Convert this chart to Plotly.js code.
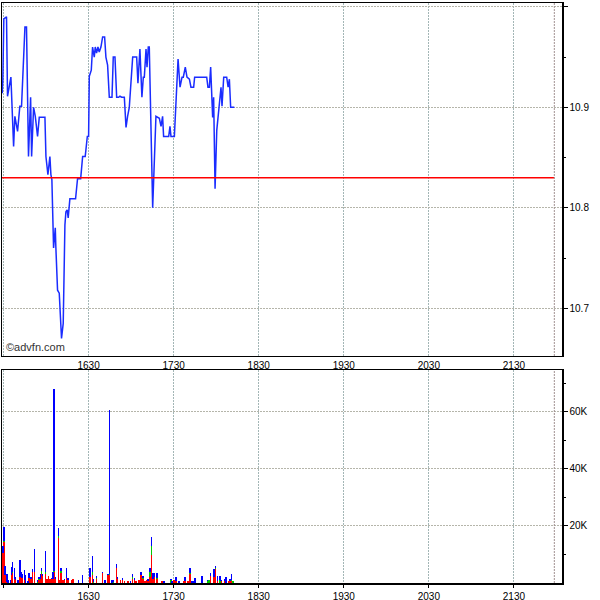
<!DOCTYPE html>
<html>
<head>
<meta charset="utf-8">
<script src="https://cdn.plot.ly/plotly-3.0.1.min.js"></script>
<style>html,body{margin:0;padding:0;background:#fff}#chart{width:600px;height:600px}</style>
</head>
<body>
<div id="chart"></div>
<script>
// ---- data ----
var DAY = "2024-01-01 ";
var priceTimes = ["15:29:04","15:29:30","15:30:12","15:32:06","15:32:48","15:34:00","15:35:12","15:37:06","15:38:00","15:39:54",
"15:41:30","15:42:42","15:45:06","15:46:12","15:47:36","15:49:06","15:49:48","15:51:12","15:52:24","15:54:00",
"15:55:12","15:59:12","15:59:54","16:01:18","16:02:42","16:03:24","16:04:06","16:05:18","16:06:30","16:06:54",
"16:08:06","16:09:18","16:10:54","16:12:06","16:13:18","16:14:00","16:14:54","16:15:36","16:16:48","16:20:48",
"16:22:12","16:24:24","16:25:48","16:27:36","16:29:06","16:30:00","16:30:30","16:31:54","16:32:48","16:34:00",
"16:34:42","16:35:36","16:36:36","16:37:30","16:38:42","16:39:54","16:41:18","16:42:12","16:43:24","16:44:36",
"16:46:30","16:47:24","16:48:36","16:49:48","16:51:12","16:52:06","16:53:18","16:55:12","16:56:24","16:57:30",
"16:58:42","17:01:06","17:03:54","17:04:48","17:06:12","17:07:36","17:08:36","17:09:18","17:10:30","17:11:12",
"17:12:06","17:12:48","17:15:12","17:17:30","17:19:54","17:21:06","17:22:12","17:22:54","17:26:30","17:27:24",
"17:28:06","17:30:30","17:31:36","17:33:06","17:34:30","17:35:54","17:36:48","17:38:12","17:39:24","17:41:06",
"17:42:12","17:44:06","17:44:48","17:53:18","17:54:12","17:55:12","17:56:06","17:56:48","17:57:30","17:58:12",
"17:59:12","18:00:24","18:02:12","18:03:24","18:04:06","18:05:18","18:07:24","18:08:24","18:09:18","18:10:12",
"18:12:48"];
var prices = [10.914,10.927,10.988,10.990,10.911,10.919,10.930,10.861,10.891,10.876,
10.901,10.901,10.980,10.980,10.851,10.910,10.851,10.900,10.891,10.871,
10.890,10.890,10.851,10.833,10.851,10.833,10.828,10.760,10.780,10.761,
10.718,10.715,10.670,10.685,10.783,10.796,10.798,10.790,10.809,10.809,
10.829,10.829,10.851,10.851,10.871,10.871,10.931,10.937,10.960,10.950,
10.960,10.954,10.960,10.955,10.960,10.970,10.970,10.950,10.942,10.910,
10.910,10.950,10.950,10.910,10.910,10.911,10.910,10.910,10.880,10.891,
10.900,10.950,10.950,10.924,10.958,10.910,10.930,10.930,10.958,10.940,
10.960,10.960,10.800,10.891,10.889,10.881,10.891,10.871,10.871,10.881,
10.871,10.871,10.911,10.948,10.920,10.930,10.930,10.940,10.930,10.928,
10.920,10.920,10.930,10.930,10.920,10.920,10.940,10.920,10.890,10.910,
10.819,10.877,10.900,10.920,10.901,10.930,10.930,10.920,10.928,10.900,
10.900];

var volTimes = ["15:29:46","15:30:28","15:31:11","15:32:21","15:33:17","15:34:56","15:35:39","15:36:21","15:37:46","15:38:28",
"15:40:07","15:41:46","15:42:28","15:43:11","15:44:49","15:45:32","15:47:11","15:48:07","15:49:32","15:50:28",
"15:51:53","15:54:00","15:54:56","15:56:07","15:56:49","15:57:32","15:59:39","16:00:35","16:01:46","16:02:43",
"16:04:07","16:05:04","16:05:46","16:06:43","16:08:49","16:09:32","16:10:43","16:11:53","16:13:04","16:14:28",
"16:15:39","16:18:00","16:18:56","16:22:56","16:25:46","16:31:11","16:32:49","16:33:32","16:35:39","16:39:53",
"16:41:46","16:43:53","16:44:49","16:46:28","16:47:25","16:49:46","16:50:28","16:52:35","16:54:00","16:55:25",
"16:58:00","16:59:39","17:01:04","17:02:28","17:03:25","17:05:46","17:06:43","17:08:21","17:10:00","17:10:56",
"17:11:53","17:13:17","17:14:28","17:15:25","17:16:35","17:18:00","17:21:32","17:23:11","17:27:53","17:28:49",
"17:30:28","17:31:53","17:33:32","17:37:04","17:37:46","17:39:53","17:41:46","17:42:56","17:44:07","17:45:17",
"17:49:46","17:53:46","17:54:43","17:55:53","17:58:14","17:59:25","18:00:49","18:02:28","18:03:25","18:06:00",
"18:06:56","18:08:49","18:09:46","18:10:43","18:11:39"];
var volRed = [10600,14200,2700,500,0,0,2700,3400,1500,900,
0,2100,2200,1900,1200,0,0,1600,1300,3900,
3700,0,900,1500,3300,2500,3200,1500,2300,1500,
1300,1400,3700,1300,15600,1200,3500,1200,900,1900,
1200,1200,1500,0,0,2100,2700,0,1500,3600,
0,2900,2900,0,0,5100,1500,900,1200,600,
600,0,1500,900,800,900,2700,1500,800,900,
800,2100,9900,1500,2100,1500,800,0,0,0,
900,800,0,600,800,600,3000,0,0,0,
0,0,0,2300,2100,4800,600,0,800,800,
0,800,800,800,0];
var volGreen = [0,600,0,0,0,0,0,500,0,0,
0,0,0,0,0,0,0,0,0,0,
0,400,400,0,800,0,700,0,0,0,
0,0,600,0,900,0,600,0,0,0,
0,0,0,0,0,0,1200,400,200,0,
0,0,400,0,300,0,0,0,0,0,
0,0,600,0,0,0,0,400,0,0,
0,1700,2900,0,0,300,0,0,900,0,
0,0,0,0,0,0,500,0,0,0,
0,600,900,0,0,500,0,1200,0,0,
0,0,0,200,600];
var volBlue = [2300,4700,3200,2800,1000,900,2800,3400,3600,1200,
900,5900,1500,1100,3200,2700,600,1800,900,900,
8100,600,700,1800,1000,800,7200,0,0,0,
600,2300,63700,700,2700,0,1000,0,600,3200,
400,0,0,900,2700,3000,5500,900,800,100,
900,100,57300,900,600,1600,600,0,500,0,
0,600,900,800,0,0,1000,500,0,0,
500,1300,3300,2000,1400,1600,0,600,600,800,
0,1200,600,0,1200,0,1600,800,600,1800,
2300,600,0,1100,2700,600,1700,1100,400,700,
2000,0,700,2300,0];

var prevClose = 10.83;
var sessionEnd = "21:58:30";
var xStart = "15:28:55", xEnd = "22:03:55";
var priceTicks = [10.7, 10.8, 10.9, 11.0];
var priceTickText = ["10.7", "10.8", "10.9", ""];
var priceMinor = [10.75, 10.85, 10.95];
var volTicks = [20000, 40000, 60000];
var volTickText = ["20K", "40K", "60K"];
var volMinor = [10000, 30000, 50000, 70000];

function d(t){ return DAY + t; }

var BARW = 72000;
function barTrace(vals, col){
  return {type:'bar', x:volTimes.map(d), y:vals, xaxis:'x2', yaxis:'y2', width:BARW,
    marker:{color:col, line:{width:0, color:col}}, hoverinfo:'skip'};
}
var traces = [
  {type:'scatter', mode:'lines', x:priceTimes.map(d), y:prices, xaxis:'x', yaxis:'y',
   line:{color:'#1a2cff', width:1.5}, hoverinfo:'skip'},
  barTrace(volRed, '#ff0000'),
  barTrace(volGreen, '#00cc00'),
  barTrace(volBlue, '#0000ff')
];

var tickFont = {family:'Liberation Sans, Arial, sans-serif', size:10, color:'#000'};
var xCommon = {
  type:'date', range:[d(xStart), d(xEnd)], tick0:d("16:30:00"), dtick:3600000, tickmode:'linear',
  tickformat:'%H%M', showgrid:true, gridcolor:'#a3b6b6', griddash:'2px,1px', gridwidth:1,
  showline:true, mirror:true, linecolor:'#000', linewidth:1.5, zeroline:false,
  tickfont:tickFont, ticks:'', fixedrange:true
};
var layout = {
  width:600, height:600,
  margin:{l:2, r:38, t:3, b:17},
  paper_bgcolor:'#fff', plot_bgcolor:'#fff',
  showlegend:false, hovermode:false, barmode:'stack', bargap:0,
  xaxis: Object.assign({}, xCommon, {domain:[0,1], anchor:'y'}),
  xaxis2: Object.assign({}, xCommon, {domain:[0,1], anchor:'y2', ticks:'outside', ticklen:3, tickcolor:'#000'}),
  yaxis: {domain:[0.3914,1], anchor:'x', side:'right', range:[10.6525, 11.0038],
    tickmode:'array', tickvals:priceTicks, ticktext:priceTickText,
    ticks:'outside', ticklen:4, tickcolor:'#000', tickfont:tickFont,
    minor:{tickmode:'array', tickvals:priceMinor, ticks:'outside', ticklen:2, tickcolor:'#000', showgrid:false},
    showgrid:true, gridcolor:'#b5b5aa', griddash:'2px,1px', gridwidth:1,
    showline:true, mirror:true, linecolor:'#000', linewidth:1.5, zeroline:false, fixedrange:true},
  yaxis2: {domain:[0,0.3672], anchor:'x2', side:'right', range:[0, 74600],
    tickmode:'array', tickvals:volTicks, ticktext:volTickText,
    ticks:'outside', ticklen:4, tickcolor:'#000', tickfont:tickFont,
    minor:{tickmode:'array', tickvals:volMinor, ticks:'outside', ticklen:2, tickcolor:'#000', showgrid:false},
    showgrid:true, gridcolor:'#b5b5aa', griddash:'2px,1px', gridwidth:1,
    showline:true, mirror:true, linecolor:'#000', linewidth:1.5, zeroline:false, fixedrange:true},
  shapes:[
    {type:'line', xref:'x', yref:'y', x0:d(xStart), x1:d(sessionEnd), y0:prevClose, y1:prevClose,
     line:{color:'#ff0000', width:1.5}},
    {type:'line', xref:'x', yref:'y domain', x0:d(sessionEnd), x1:d(sessionEnd), y0:0, y1:1,
     line:{color:'#a09090', width:1, dash:'2px,1px'}},
    {type:'line', xref:'x2', yref:'y2 domain', x0:d(sessionEnd), x1:d(sessionEnd), y0:0, y1:1,
     line:{color:'#a09090', width:1, dash:'2px,1px'}}
  ],
  annotations:[
    {text:'©advfn.com', xref:'x domain', yref:'y domain', x:0.004, y:0.003, xanchor:'left', yanchor:'bottom',
     showarrow:false, font:{family:'Liberation Sans, Arial, sans-serif', size:11, color:'#333'}}
  ]
};
Plotly.newPlot('chart', traces, layout, {displayModeBar:false, staticPlot:true});
</script>
</body>
</html>
